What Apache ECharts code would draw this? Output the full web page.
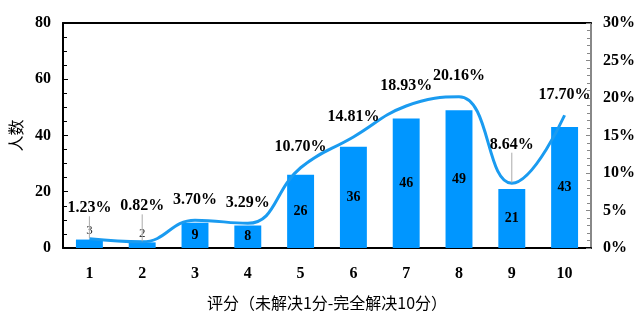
<!DOCTYPE html>
<html>
<head>
<meta charset="utf-8">
<script src="https://cdn.jsdelivr.net/npm/echarts@6/dist/echarts.min.js"></script>
<style>
   html, body { margin: 0; padding: 0; background: #fff; }
   #chart { width: 638px; height: 316px; }
</style>
</head>
<body>
<div id="chart"></div>
<script>

// scores 1..10
const scores = ['1', '2', '3', '4', '5', '6', '7', '8', '9', '10'];
// number of people per score
const counts = [3, 2, 9, 8, 26, 36, 46, 49, 21, 43];
// share of people per score (%)
const shares = [1.23, 0.82, 3.70, 3.29, 10.70, 14.81, 18.93, 20.16, 8.64, 17.70];

const serif = 'Liberation Serif';
const cjk = 'Noto Sans CJK SC';
const barColor = '#0096ff';
const lineColor = '#1a9bf0';

// labels that sit higher with a leader line
const liftedLabels = { 0: -10, 1: -15, 8: -18 };

const chart = echarts.init(document.getElementById('chart'));

const barData = counts.map((v, i) =>
{
   if (v < 5)
   {
      // small bars: label above, plain
      return {
         value: v,
         label: { position: 'top', distance: 2, fontWeight: 'normal', fontSize: 13, color: '#333' }
      };
   }
   return v;
});

const lineData = shares.map((v, i) =>
{
   if (liftedLabels[i] !== undefined)
   {
      return { value: v, labelLine: { show: true, lineStyle: { color: '#aaa', width: 1 } } };
   }
   return v;
});

const option =
{
   animation: false,
   grid: { left: 63, right: 44, top: 23, bottom: 58 },
   xAxis: [
   {
      type: 'category',
      data: scores,
      boundaryGap: true,
      axisLine: { lineStyle: { color: '#000', width: 2 } },
      axisTick: { inside: true, length: 5, lineStyle: { color: '#000' } },
      axisLabel: { fontFamily: serif, fontWeight: 'bold', fontSize: 16, color: '#000', margin: 18 },
      name: '评分（未解决1分-完全解决10分）',
      nameLocation: 'middle',
      nameGap: 47,
      nameTextStyle: { fontFamily: cjk, fontSize: 16, color: '#000' }
   },
   {
      // top frame line
      type: 'category',
      data: scores,
      position: 'top',
      axisLine: { show: true, onZero: false, lineStyle: { color: '#000', width: 2 } },
      axisTick: { show: false },
      axisLabel: { show: false }
   }],
   yAxis: [
   {
      type: 'value',
      min: 0,
      max: 80,
      interval: 20,
      axisLine: { show: true, onZero: false, lineStyle: { color: '#000', width: 2 } },
      axisTick: { show: true, inside: true, length: 5, lineStyle: { color: '#000' } },
      minorTick: { show: true, splitNumber: 4, length: 4, lineStyle: { color: '#000' } },
      splitLine: { show: false },
      axisLabel: { fontFamily: serif, fontWeight: 'bold', fontSize: 16, color: '#000', margin: 12 },
      name: '人数',
      nameLocation: 'middle',
      nameGap: 32,
      nameRotate: 90,
      nameTextStyle: { fontFamily: cjk, fontSize: 16, color: '#000' }
   },
   {
      type: 'value',
      min: 0,
      max: 30,
      interval: 5,
      position: 'right',
      axisLine: { show: true, onZero: false, lineStyle: { color: '#888', width: 2 } },
      axisTick: { show: true, inside: true, length: 5, lineStyle: { color: '#888' } },
      minorTick: { show: true, splitNumber: 5, length: 4, lineStyle: { color: '#888' } },
      splitLine: { show: false },
      axisLabel: { formatter: '{value}%', fontFamily: serif, fontWeight: 'bold', fontSize: 16, color: '#000', margin: 12 }
   }],
   series: [
   {
      type: 'bar',
      data: barData,
      barWidth: '51%',
      itemStyle: { color: barColor },
      label:
      {
         show: true,
         position: 'inside',
         fontFamily: serif,
         fontWeight: 'bold',
         fontSize: 14,
         color: '#000'
      },
      z: 2
   },
   {
      type: 'line',
      yAxisIndex: 1,
      data: lineData,
      smooth: 0.45,
      showSymbol: true,
      symbol: 'circle',
      symbolSize: 1,
      itemStyle: { color: 'rgba(0,0,0,0)' },
      lineStyle: { color: lineColor, width: 3 },
      label:
      {
         show: true,
         position: 'top',
         distance: 12,
         fontFamily: serif,
         fontWeight: 'bold',
         fontSize: 16,
         color: '#000',
         formatter: (p) => p.value.toFixed(2) + '%'
      },
      labelLine: { show: false },
      labelLayout: (params) =>
      {
         const dy = liftedLabels[params.dataIndex];
         if (dy !== undefined) return { dy: dy };
         return {};
      },
      z: 3
   }]
};

chart.setOption(option);

</script>
</body>
</html>
